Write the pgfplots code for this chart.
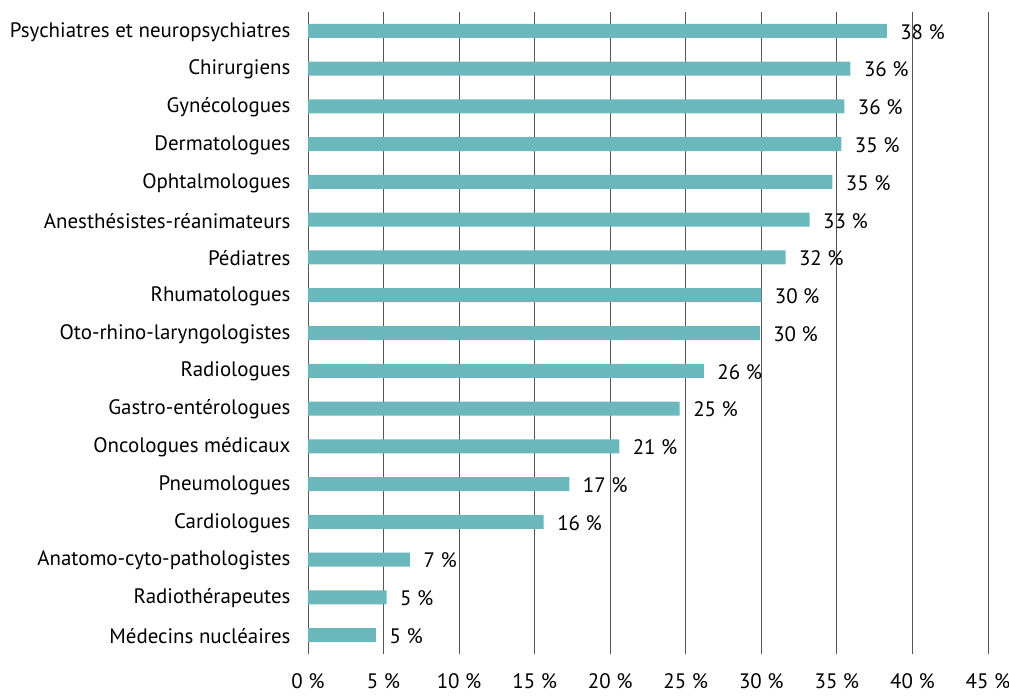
\documentclass[border=0pt]{standalone}
\usepackage{pgfplots}
\pgfplotsset{compat=1.18}
\usepackage{fontspec}
\setmainfont{PT Sans}
\definecolor{barc}{HTML}{6BB8BC}
\definecolor{gridc}{HTML}{555555}
\begin{document}
\begin{tikzpicture}
\begin{axis}[
  name=ax,
  scale only axis,
  width=680bp, height=642bp,
  xmin=0, xmax=45,
  ymin=-0.5, ymax=16.5,
  y dir=reverse,
  xtick={0,5,...,45},
  xticklabel={\pgfmathprintnumber{\tick}~\%},
  /pgf/number format/assume math mode=true,
  ytick={0,...,16},
  yticklabels={Psychiatres et neuropsychiatres, Chirurgiens, Gynécologues, Dermatologues, Ophtalmologues, Anesthésistes-réanimateurs, Pédiatres, Rhumatologues, Oto-rhino-laryngologistes, Radiologues, Gastro-entérologues, Oncologues médicaux, Pneumologues, Cardiologues, Anatomo-cyto-pathologistes, Radiothérapeutes, Médecins nucléaires},
  axis line style={draw=none},
  major tick length=0pt,
  xmajorgrids,
  major grid style={gridc, line width=0.9pt},
  tick label style={font=\fontsize{21}{24}\selectfont, text=black},
  yticklabel style={xshift=-14bp, yshift=-1bp},
  xticklabel style={yshift=-16bp},
  xbar, bar width=14bp,
  nodes near coords,
  point meta=explicit symbolic,
  every node near coord/.append style={font=\fontsize{21}{24}\selectfont, anchor=west, xshift=10bp, yshift=-1bp},
  clip=false,
]
\addplot[fill=barc, draw=none] coordinates {
(38.3,0) [38~\%]
(35.9,1) [36~\%]
(35.5,2) [36~\%]
(35.3,3) [35~\%]
(34.7,4) [35~\%]
(33.2,5) [33~\%]
(31.6,6) [32~\%]
(30.0,7) [30~\%]
(29.9,8) [30~\%]
(26.2,9) [26~\%]
(24.6,10) [25~\%]
(20.6,11) [21~\%]
(17.3,12) [17~\%]
(15.6,13) [16~\%]
(6.75,14) [7~\%]
(5.2,15) [5~\%]
(4.5,16) [5~\%]
};
\end{axis}
\pgfresetboundingbox
\path[use as bounding box] ([shift={(-308bp,-42bp)}]ax.south west) rectangle ([shift={(21bp,12bp)}]ax.north east);
\end{tikzpicture}
\end{document}
